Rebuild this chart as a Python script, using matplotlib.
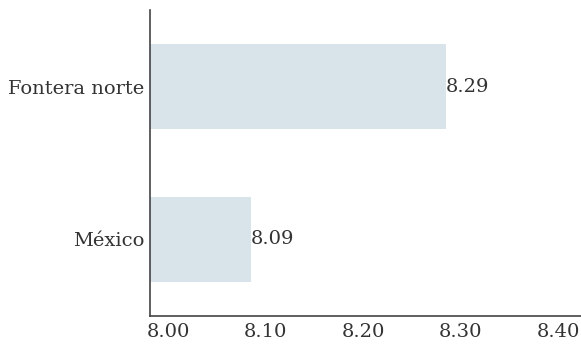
import matplotlib

matplotlib.use("Agg")
import matplotlib.pyplot as plt
import matplotlib.transforms as mtransforms

categories = ["México", "Fontera norte"]
values = [8.09, 8.29]
value_labels = ["8.09", "8.29"]
x_ticks = [8.00, 8.10, 8.20, 8.30, 8.40]
x_tick_labels = ["8.00", "8.10", "8.20", "8.30", "8.40"]

plt.rcParams["font.family"] = ["DejaVu Serif"]
text_color = "#333333"
fs = 14

fig = plt.figure(figsize=(5.81, 3.47), dpi=100)
ax = fig.add_axes([150 / 581, 1 - 316 / 347, 431 / 581, 306 / 347])

xmin = 7.9864
ax.barh(range(len(categories)), [v - xmin for v in values], left=xmin,
        height=0.56, color="#d9e4ea")
ax.set_xlim(xmin, xmin + 431 / 975)
ax.set_ylim(-0.5, 1.5)

for i, (v, lab) in enumerate(zip(values, value_labels)):
    ax.text(v, i, lab, ha="left", va="center", fontsize=fs, color=text_color)

ax.set_yticks(range(len(categories)))
ax.set_yticklabels(categories, fontsize=fs, color=text_color)
ax.set_xticks(x_ticks)
ax.set_xticklabels(x_tick_labels, fontsize=fs, color=text_color)
ax.tick_params(axis="both", length=0)
ax.tick_params(axis="y", pad=4)
ax.tick_params(axis="x", pad=5)
offset = mtransforms.ScaledTranslation(5 / 100, 0, fig.dpi_scale_trans)
for lab in ax.get_xticklabels():
    lab.set_transform(lab.get_transform() + offset)

for side in ("top", "right"):
    ax.spines[side].set_visible(False)
for side in ("left", "bottom"):
    ax.spines[side].set_color("#444444")
    ax.spines[side].set_linewidth(1.2)

fig.savefig("out.png", dpi=100)
